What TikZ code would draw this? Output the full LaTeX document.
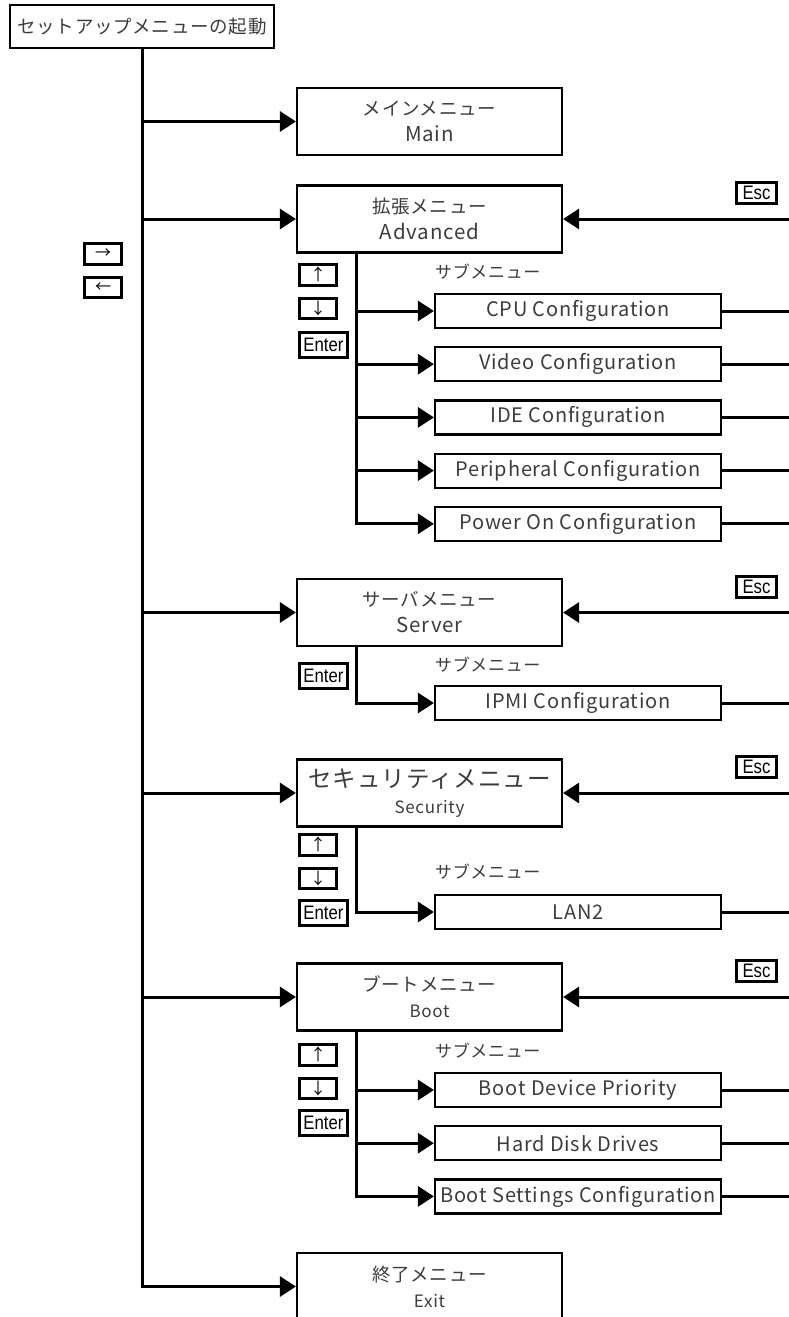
\documentclass[tikz,border=0pt]{standalone}
\usepackage{fontspec}
\setmainfont{Noto Sans CJK JP}
\newfontfamily\boxfont{Noto Sans CJK JP}[LetterSpace=4]
\newfontfamily\keyfont{Liberation Sans}[FakeStretch=0.86]
\usetikzlibrary{arrows.meta,positioning,calc}
\definecolor{ink}{RGB}{60,60,60}
\tikzset{menu/.style={draw,line width=2.2pt,minimum width=265pt,minimum height=67pt,align=center,text=ink,font=\boxfont\fontsize{18.5}{26}\selectfont,inner sep=2pt},starter/.style={menu,minimum width=264pt,minimum height=43pt},subm/.style={draw,line width=2.2pt,minimum width=286pt,minimum height=34pt,text=ink,font=\boxfont\fontsize{20}{22}\selectfont,inner sep=2pt},arrowkey/.style={draw,line width=3pt,minimum width=37pt,minimum height=20.5pt,inner sep=0pt,font=\fontsize{16}{16}\selectfont},enterkey/.style={arrowkey,minimum width=48pt,minimum height=24.5pt,font=\keyfont\fontsize{19.5}{20}\selectfont},esckey/.style={enterkey,minimum width=40pt,minimum height=21pt},note/.style={anchor=west,inner sep=0pt,text=ink,font=\boxfont\fontsize{17}{20}\selectfont},wire/.style={line width=3pt},flow/.style={wire,-{Triangle[length=16pt,width=20pt]}}}
\begin{document}
\begin{tikzpicture}[x=1pt,y=-1pt,node distance=17pt]
\useasboundingbox (0,0) rectangle (789,1317);
\clip (0,0) rectangle (789,1317);
\coordinate (tap) at (356,0);
\coordinate (edge) at (789,0);
\node[starter] (start) at (142,26.5) {セットアップメニューの起動};
\node[arrowkey] (kright) at (103,254) {→};
\node[arrowkey,below=10pt of kright] (kleft) {←};
% top level menus
\node[menu] (main) at (429.5,121.5) {メインメニュー\\{\fontsize{20.5}{26}\selectfont Main}};
\node[menu] (adv) at (429.5,219) {拡張メニュー\\{\fontsize{20.5}{26}\selectfont Advanced}};
\node[menu] (server) at (429.5,612.5) {サーバメニュー\\{\fontsize{20.5}{26}\selectfont Server}};
\node[menu] (sec) at (429.5,793) {{\fontsize{23.5}{26}\selectfont セキュリティメニュー}\\{\fontsize{17}{18}\selectfont Security}};
\node[menu] (boot) at (429.5,997) {ブートメニュー\\{\fontsize{17}{18}\selectfont Boot}};
\node[menu] (exit) at (429.5,1286.5) {終了メニュー\\{\fontsize{17}{18}\selectfont Exit}};
% sub menus
\node[subm] (cpu) at (578,311) {CPU Configuration};
\node[subm,below=of cpu] (video) {Video Configuration};
\node[subm,below=of video] (ide) {IDE Configuration};
\node[subm,below=of ide] (periph) {Peripheral Configuration};
\node[subm,below=of periph] (power) {Power On Configuration};
\node[subm] (ipmi) at (578,703) {IPMI Configuration};
\node[subm] (lan) at (578,912) {LAN2};
\node[subm] (bdp) at (578,1090) {Boot Device Priority};
\node[subm,below=of bdp] (hdd) {Hard Disk Drives};
\node[subm,below=of hdd] (bsc) {Boot Settings Configuration};
\node[note] (advnote) at ($(cpu.north west)+(1,-21)$) {サブメニュー};
\node[note] (srvnote) at ($(ipmi.north west)+(1,-20)$) {サブメニュー};
\node[note] (secnote) at ($(lan.north west)+(1,-22)$) {サブメニュー};
\node[note] (bootnote) at ($(bdp.north west)+(1,-21)$) {サブメニュー};
% keys
\node[arrowkey,anchor=north west] (advup) at (298,263) {↑};
\node[arrowkey,below=10pt of advup] (advdown) {↓};
\node[enterkey,below=11pt of advdown.south west,anchor=north west] (adventer) {Enter};
\node[enterkey,anchor=north west] (srventer) at (298,662) {Enter};
\node[arrowkey,anchor=north west] (secup) at (298,833) {↑};
\node[arrowkey,below=10pt of secup] (secdown) {↓};
\node[enterkey,below=9pt of secdown.south west,anchor=north west] (secenter) {Enter};
\node[arrowkey,anchor=north west] (bootup) at (298,1043) {↑};
\node[arrowkey,below=10pt of bootup] (bootdown) {↓};
\node[enterkey,below=9pt of bootdown.south west,anchor=north west] (bootenter) {Enter};
\node[esckey] (advesc) at ($(edge |- adv.east)+(-32.5,-26)$) {Esc};
\node[esckey] (srvesc) at ($(edge |- server.east)+(-32.5,-26)$) {Esc};
\node[esckey] (secesc) at ($(edge |- sec.east)+(-32.5,-26)$) {Esc};
\node[esckey] (bootesc) at ($(edge |- boot.east)+(-32.5,-26)$) {Esc};
% trunk and branches
\draw[flow] (start.south) |- (exit.west);
\draw[flow] (start.south |- main.west)--(main.west);\draw[flow] (start.south |- adv.west)--(adv.west);
\draw[flow] (start.south |- server.west)--(server.west);\draw[flow] (start.south |- sec.west)--(sec.west);
\draw[flow] (start.south |- boot.west)--(boot.west);
\draw[flow] (tap |- adv.south) |- (power.west);
\draw[flow] (tap |- cpu.west)--(cpu.west);\draw[flow] (tap |- video.west)--(video.west);
\draw[flow] (tap |- ide.west)--(ide.west);\draw[flow] (tap |- periph.west)--(periph.west);
\draw[flow] (tap |- server.south) |- (ipmi.west);
\draw[flow] (tap |- sec.south) |- (lan.west);
\draw[flow] (tap |- boot.south) |- (bsc.west);
\draw[flow] (tap |- bdp.west)--(bdp.west);\draw[flow] (tap |- hdd.west)--(hdd.west);
% back to the menu bar
\draw[flow] (edge |- adv.east)--(adv.east);\draw[flow] (edge |- server.east)--(server.east);
\draw[flow] (edge |- sec.east)--(sec.east);\draw[flow] (edge |- boot.east)--(boot.east);
\draw[wire] (cpu.east)--(edge |- cpu.east);\draw[wire] (video.east)--(edge |- video.east);
\draw[wire] (ide.east)--(edge |- ide.east);\draw[wire] (periph.east)--(edge |- periph.east);
\draw[wire] (power.east)--(edge |- power.east);\draw[wire] (ipmi.east)--(edge |- ipmi.east);
\draw[wire] (lan.east)--(edge |- lan.east);\draw[wire] (bdp.east)--(edge |- bdp.east);
\draw[wire] (hdd.east)--(edge |- hdd.east);\draw[wire] (bsc.east)--(edge |- bsc.east);
\end{tikzpicture}
\end{document}
